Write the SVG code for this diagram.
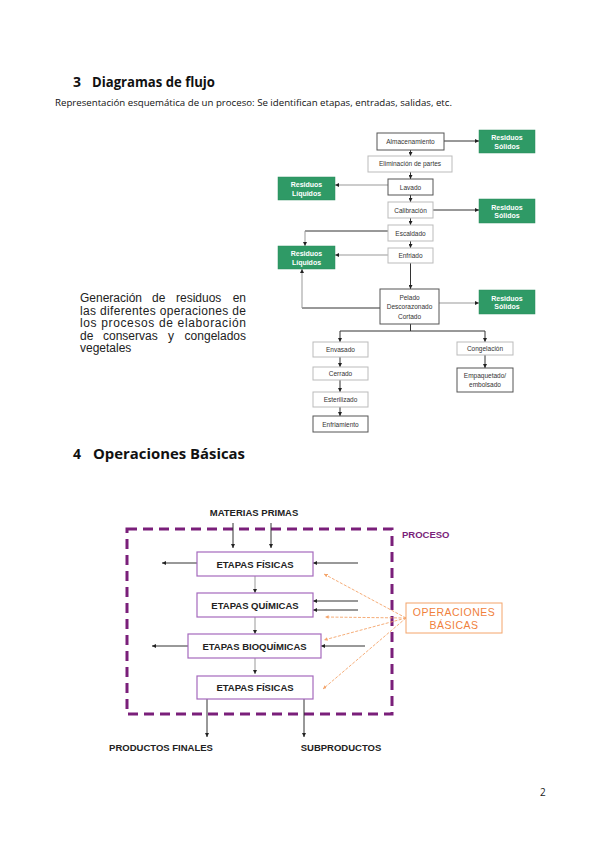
<svg xmlns="http://www.w3.org/2000/svg" width="599" height="848" viewBox="0 0 599 848">
<style>
.h{font-family:"Open Sans","Liberation Sans",sans-serif;font-weight:bold;font-size:14px;fill:#111}
.sub{font-family:"Open Sans","Liberation Sans",sans-serif;font-size:9px;fill:#111}
.para{font-family:"Liberation Sans",Arial,sans-serif;font-size:12px;fill:#222}
.box{fill:#fff;stroke:#555;stroke-width:1}
.lbox{fill:#fff;stroke:#bbb;stroke-width:1}
.grn{fill:#2f9a66;stroke:#2a8a5c;stroke-width:0.5}
.gt{font-family:"Liberation Sans",Arial,sans-serif;font-size:7px;font-weight:bold;fill:#fff;text-anchor:middle}
.ft{font-family:"Liberation Sans",Arial,sans-serif;font-size:6.5px;fill:#333;text-anchor:middle}
.c{stroke:#333;stroke-width:1;fill:none}
.cl{stroke:#999;stroke-width:1;fill:none}
.pbox{fill:#fff;stroke:#a569bd;stroke-width:1.2}
.bt{font-family:"Liberation Sans",Arial,sans-serif;font-size:9.5px;font-weight:bold;fill:#222;text-anchor:middle}
.oc{stroke:#f4a46a;stroke-width:0.9;fill:none;stroke-dasharray:3,1.5}
.ot{font-family:"Liberation Sans",Arial,sans-serif;font-size:10.5px;fill:#f07f3c;text-anchor:middle;letter-spacing:0.5px}
</style>
<defs>
<marker id="a" viewBox="0 0 6 6" refX="6" refY="3" markerWidth="4" markerHeight="4" orient="auto"><path d="M0,0L6,3L0,6z" fill="#222"/></marker>
<marker id="ao" viewBox="0 0 6 6" refX="6" refY="3" markerWidth="4" markerHeight="4" orient="auto"><path d="M0,0L6,3L0,6z" fill="#f4a46a"/></marker>
</defs>
<rect width="599" height="848" fill="#fff"/>

<text class="h" x="73" y="87">3</text>
<text class="h" x="92" y="87" textLength="123" lengthAdjust="spacingAndGlyphs">Diagramas de flujo</text>
<text class="sub" x="55" y="106" textLength="397" lengthAdjust="spacingAndGlyphs">Representación esquemática de un proceso: Se identifican etapas, entradas, salidas, etc.</text>

<g class="para">
<text x="80" y="302">Generación</text><text x="152" y="302">de</text><text x="176" y="302">residuos</text><text x="246" y="302" text-anchor="end">en</text>
<text x="80" y="314.6" textLength="166" lengthAdjust="spacing">las diferentes operaciones de</text>
<text x="80" y="327.2" textLength="166" lengthAdjust="spacing">los procesos de elaboración</text>
<text x="80" y="339.8">de</text><text x="103" y="339.8">conservas</text><text x="168" y="339.8">y</text><text x="246" y="339.8" text-anchor="end">congelados</text>
<text x="80" y="352.4">vegetales</text>
</g>

<g id="connectors-top">
<path class="c" d="M444,141H479" marker-end="url(#a)"/>
<path class="c" d="M410.5,150V156" marker-end="url(#a)"/>
<path class="c" d="M410.5,172V179" marker-end="url(#a)"/>
<path class="cl" d="M388,185H335" marker-end="url(#a)"/>
<path class="c" d="M410.5,195V202" marker-end="url(#a)"/>
<path class="c" d="M433,210H479" marker-end="url(#a)"/>
<path class="c" d="M410.5,218V225" marker-end="url(#a)"/>
<path class="c" d="M388,231H305"/>
<path class="cl" d="M305,231V246" marker-end="url(#a)"/>
<path class="c" d="M410.5,241V248" marker-end="url(#a)"/>
<path class="cl" d="M388,255H335" marker-end="url(#a)"/>
<path class="c" d="M410.5,263V289" marker-end="url(#a)"/>
<path class="c" d="M380,308H302"/>
<path class="cl" d="M302,308V269" marker-end="url(#a)"/>
<path class="cl" d="M439,303H479" marker-end="url(#a)"/>
<path class="c" d="M410.5,324V331M340,331H485"/>
<path class="c" d="M340,331V342" marker-end="url(#a)"/>
<path class="c" d="M485,331V342" marker-end="url(#a)"/>
<path class="c" d="M340,357V367" marker-end="url(#a)"/>
<path class="c" d="M340,380V392" marker-end="url(#a)"/>
<path class="c" d="M340,407V416" marker-end="url(#a)"/>
<path class="c" d="M485,355V368" marker-end="url(#a)"/>
</g>

<g id="almacenamiento"><rect class="box" x="377" y="133" width="67" height="17"/><text class="ft" x="410.5" y="144">Almacenamiento</text></g>
<g id="rs1"><rect class="grn" x="479" y="130" width="56" height="23"/><text class="gt" x="507" y="140">Residuos</text><text class="gt" x="507" y="148.5">Sólidos</text></g>
<g id="eliminacion"><rect class="lbox" x="368" y="156" width="84" height="16"/><text class="ft" x="410" y="166">Eliminación de partes</text></g>
<g id="lavado"><rect class="box" x="388" y="179" width="45" height="16"/><text class="ft" x="410.5" y="189.5">Lavado</text></g>
<g id="rl1"><rect class="grn" x="278" y="177" width="57" height="23"/><text class="gt" x="306.5" y="187">Residuos</text><text class="gt" x="306.5" y="195.5">Líquidos</text></g>
<g id="calibracion"><rect class="lbox" x="388" y="202" width="45" height="16"/><text class="ft" x="410.5" y="212.5">Calibración</text></g>
<g id="rs2"><rect class="grn" x="479" y="199" width="56" height="24"/><text class="gt" x="507" y="209.5">Residuos</text><text class="gt" x="507" y="218">Sólidos</text></g>
<g id="escaldado"><rect class="lbox" x="388" y="225" width="45" height="16"/><text class="ft" x="410.5" y="235.5">Escaldado</text></g>
<g id="rl2"><rect class="grn" x="278" y="246" width="57" height="23"/><text class="gt" x="306.5" y="256">Residuos</text><text class="gt" x="306.5" y="264.5">Líquidos</text></g>
<g id="enfriado"><rect class="lbox" x="388" y="248" width="45" height="15"/><text class="ft" x="410.5" y="258">Enfriado</text></g>
<g id="pelado"><rect class="box" x="380" y="289" width="59" height="35"/><text class="ft" x="409.5" y="300">Pelado</text><text class="ft" x="409.5" y="309">Descorazonado</text><text class="ft" x="409.5" y="318.5">Cortado</text></g>
<g id="rs3"><rect class="grn" x="479" y="290" width="56" height="24"/><text class="gt" x="507" y="300.5">Residuos</text><text class="gt" x="507" y="309">Sólidos</text></g>
<g id="envasado"><rect class="lbox" x="313" y="342" width="55" height="15"/><text class="ft" x="340.5" y="352">Envasado</text></g>
<g id="cerrado"><rect class="lbox" x="313" y="367" width="55" height="13"/><text class="ft" x="340.5" y="376">Cerrado</text></g>
<g id="esterilizado"><rect class="lbox" x="313" y="392" width="55" height="15"/><text class="ft" x="340.5" y="402">Esterilizado</text></g>
<g id="enfriamiento"><rect class="box" x="313" y="416" width="55" height="16"/><text class="ft" x="340.5" y="426.5">Enfriamiento</text></g>
<g id="congelacion"><rect class="lbox" x="457" y="342" width="56" height="13"/><text class="ft" x="485" y="351">Congelación</text></g>
<g id="empaquetado"><rect class="box" x="457" y="368" width="56" height="24"/><text class="ft" x="485" y="377.5">Empaquetado/</text><text class="ft" x="485" y="387">embolsado</text></g>

<text class="h" x="73" y="459">4</text>
<text class="h" x="93" y="459" textLength="152" lengthAdjust="spacingAndGlyphs">Operaciones Básicas</text>

<g id="proceso">
<rect x="127" y="529" width="265" height="185" fill="none" stroke="#7a1f7a" stroke-width="3" stroke-dasharray="10,6"/>
<text x="402" y="538" font-family="Liberation Sans,Arial,sans-serif" font-size="9.5" font-weight="bold" fill="#7a1f7a">PROCESO</text>
</g>
<text class="bt" x="254" y="516" font-size="9">MATERIAS PRIMAS</text>

<g id="connectors-bottom">
<path class="c" d="M233,523V548" marker-end="url(#a)"/>
<path class="c" d="M271,523V548" marker-end="url(#a)"/>
<path class="c" d="M197,563H162" marker-end="url(#a)"/>
<path class="c" d="M358,563H313" marker-end="url(#a)"/>
<path class="cl" d="M255,576V593" marker-end="url(#a)"/>
<path class="c" d="M358,601H313" marker-end="url(#a)"/>
<path class="c" d="M358,610H313" marker-end="url(#a)"/>
<path class="cl" d="M255,617V634" marker-end="url(#a)"/>
<path class="c" d="M188,646H152" marker-end="url(#a)"/>
<path class="c" d="M365,646H321" marker-end="url(#a)"/>
<path class="cl" d="M255,658V674" marker-end="url(#a)"/>
<path class="c" d="M207,699V737" marker-end="url(#a)"/>
<path class="c" d="M304,699V737" marker-end="url(#a)"/>
<path class="oc" d="M406,618L324,574" marker-end="url(#ao)"/>
<path class="oc" d="M406,618L325,617" marker-end="url(#ao)"/>
<path class="oc" d="M406,618L324,640" marker-end="url(#ao)"/>
<path class="oc" d="M406,618L323,689" marker-end="url(#ao)"/>
</g>

<g id="fisicas1"><rect class="pbox" x="197" y="552" width="116" height="24"/><text class="bt" x="255" y="567.5">ETAPAS FÍSICAS</text></g>
<g id="quimicas"><rect class="pbox" x="197" y="593" width="116" height="24"/><text class="bt" x="255" y="608.5">ETAPAS QUÍMICAS</text></g>
<g id="bioquimicas"><rect class="pbox" x="188" y="634" width="133" height="24"/><text class="bt" x="254.5" y="649.5">ETAPAS BIOQUÍMICAS</text></g>
<g id="fisicas2"><rect class="pbox" x="197" y="676" width="116" height="23" stroke="#c9a6d9"/><text class="bt" x="255" y="691">ETAPAS FÍSICAS</text></g>
<g id="operaciones"><rect x="406" y="603" width="96" height="30" fill="#fff" stroke="#f4a46a" stroke-width="1"/><text class="ot" x="454" y="616">OPERACIONES</text><text class="ot" x="454" y="629">BÁSICAS</text></g>

<text class="bt" x="161" y="751" font-size="9.5">PRODUCTOS FINALES</text>
<text class="bt" x="341" y="751" font-size="9.5">SUBPRODUCTOS</text>

<text x="540" y="796" font-family="Open Sans,Liberation Sans,sans-serif" font-size="10" fill="#222">2</text>
</svg>
